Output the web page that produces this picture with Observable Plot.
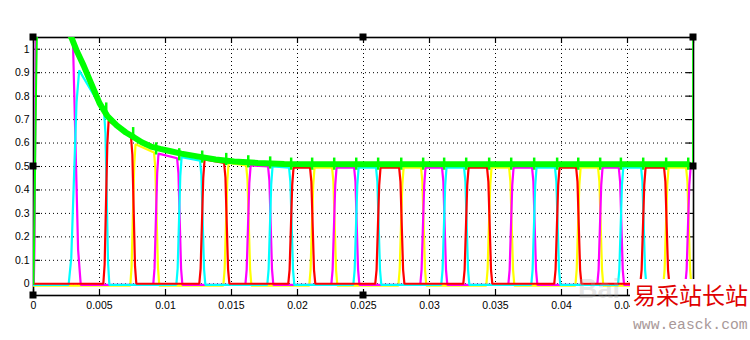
<!DOCTYPE html>
<html><head><meta charset="utf-8">
<script src="https://cdn.jsdelivr.net/npm/d3@7"></script>
<script src="https://cdn.jsdelivr.net/npm/@observablehq/plot@0.6"></script>
<style>
html,body{margin:0;padding:0;background:#fff;}
#wrap{position:relative;width:750px;height:340px;overflow:hidden;background:#fff;}
#wm{position:absolute;left:630px;top:279px;width:120px;height:61px;background:#fff;}
#wm .cn{position:absolute;left:3px;top:4px;font-family:"Noto Sans CJK SC";font-size:23px;line-height:1;color:#e00000;white-space:nowrap;}
#wm .url{position:absolute;left:3px;top:39px;font-family:"Liberation Mono";font-size:14.7px;line-height:1;color:#a89898;white-space:nowrap;}
#bai{position:absolute;left:578px;top:276px;font-family:"Liberation Sans";font-weight:bold;font-size:27px;line-height:1;color:rgba(170,170,170,0.3);}
</style></head><body><div id="wrap"></div><script>
// ---- ticks ----
const xTicks = [0, 0.005, 0.01, 0.015, 0.02, 0.025, 0.03, 0.035, 0.04, 0.045, 0.05];
const xTickLabels = ["0", "0.005", "0.01", "0.015", "0.02", "0.025", "0.03", "0.035", "0.04", "0.045", ""];
const yTicks = [0, 0.1, 0.2, 0.3, 0.4, 0.5, 0.6, 0.7, 0.8, 0.9, 1];
const yTickLabels = ["0", "0.1", "0.2", "0.3", "0.4", "0.5", "0.6", "0.7", "0.8", "0.9", "1"];

// ---- series (scope draw order) ----
const seriesNames = ["yellow", "magenta", "cyan", "red"];
const seriesColors = ["#ffff00", "#ff00ff", "#00ffff", "#ff0000"];
const seriesZero = [-0.008, -0.005, -0.005, 0.0];

// ---- pulses: start time, owning series, top level at start / end ----
const pulseStarts = [0.00013, 0.0031, 0.00551, 0.00755, 0.00929, 0.01104, 0.01278, 0.0146, 0.01627, 0.01793,
  0.01952, 0.02111, 0.02278, 0.02445, 0.02611, 0.02786, 0.02952, 0.03111, 0.03278, 0.03452,
  0.03619, 0.03793, 0.03967, 0.04127, 0.04293, 0.0445, 0.04619, 0.04793, 0.0496];
const pulseSeries = ["magenta", "cyan", "red", "yellow", "magenta", "cyan", "red", "yellow", "magenta", "cyan",
  "red", "yellow", "magenta", "cyan", "red", "yellow", "magenta", "cyan", "red", "yellow",
  "magenta", "cyan", "red", "yellow", "magenta", "cyan", "red", "yellow", "magenta"];
const pulseTopStart = [1.2, 0.91, 0.695, 0.595, 0.555, 0.54, 0.53, 0.515, 0.505, 0.5,
  0.495, 0.495, 0.495, 0.495, 0.495, 0.495, 0.495, 0.495, 0.495, 0.495, 0.495, 0.495, 0.495, 0.495, 0.495, 0.495, 0.495, 0.495, 0.495];
const pulseTopEnd = [1.2, 0.73, 0.625, 0.56, 0.535, 0.525, 0.515, 0.505, 0.5, 0.495,
  0.495, 0.495, 0.495, 0.495, 0.495, 0.495, 0.495, 0.495, 0.495, 0.495, 0.495, 0.495, 0.495, 0.495, 0.495, 0.495, 0.495, 0.495, 0.495];

// ---- green envelope ----
const greenT = [0, 0.00008, 0.00013, 0.0002, 0.0003, 0.0015, 0.0027, 0.0029, 0.0033, 0.0038, 0.0044, 0.005,
  0.0056, 0.0063, 0.007, 0.0076, 0.0082, 0.0089, 0.0096, 0.0104, 0.0112, 0.0124, 0.0138, 0.0152,
  0.017, 0.019, 0.022, 0.03, 0.04, 0.0496, 0.04997, 0.04998];
const greenV = [0, 0.3, 0.55, 0.86, 1.2, 1.2, 1.07, 1.046, 0.99, 0.93, 0.85, 0.77,
  0.715, 0.675, 0.645, 0.625, 0.603, 0.585, 0.575, 0.565, 0.555, 0.543, 0.53, 0.521,
  0.515, 0.511, 0.51, 0.51, 0.51, 0.51, 0.51, 1.2];
const greenSpikeHalf = 0.026;

const xMax = 0.05;
const edgeW = i => i === 0 ? 0.0002 : i === 1 ? 0.0008 : 0.0004;

function buildSeries(name, z) {
  const pts = [{t: 0, v: z}];
  pulseStarts.forEach((ts, i) => {
    if (pulseSeries[i] !== name) return;
    const L1 = pulseTopStart[i], L2 = pulseTopEnd[i], w1 = edgeW(i);
    const last = i === pulseStarts.length - 1;
    const te = last ? xMax : pulseStarts[i + 1];
    pts.push({t: Math.max(0, ts - 0.55 * w1), v: z}, {t: ts - 0.3 * w1, v: 0.12 * L1},
             {t: ts + 0.2 * w1, v: 0.85 * L1}, {t: ts + 0.45 * w1, v: L1});
    if (last) { pts.push({t: te, v: L2}); return; }
    const w2 = edgeW(i + 1);
    pts.push({t: te - 0.4 * w2, v: L2}, {t: te - 0.15 * w2, v: 0.88 * L2},
             {t: te + 0.35 * w2, v: 0.12 * L2}, {t: te + 0.6 * w2, v: z});
  });
  if (pts[pts.length - 1].t < xMax) pts.push({t: xMax, v: z});
  return pts;
}

const green = greenT.map((t, i) => ({t, v: greenV[i]}));
const greenMain = green.filter(d => d.t >= 0.0027 && d.t <= 0.0496);
const spikes = pulseStarts.slice(1).map((t, k) => {
  const c = pulseTopEnd[k] + 0.015;
  return {t, lo: c - greenSpikeHalf, hi: c + greenSpikeHalf};
});

const W = 750, H = 340, mL = 33, mR = 57, mT = 37, mB = 45;
const fW = W - mL - mR, fH = H - mT - mB;

const traceMarks = seriesNames.map((s, k) =>
  Plot.line(buildSeries(s, seriesZero[k]), {x: "t", y: "v", stroke: seriesColors[k], strokeWidth: 2.2, clip: true, strokeLinejoin: "miter"}));

const plot = Plot.plot({
  width: W, height: H, marginLeft: mL, marginRight: mR, marginTop: mT, marginBottom: mB,
  x: {domain: [0, xMax], label: null},
  y: {domain: [-0.05, 1.05], label: null},
  style: {fontFamily: "Liberation Sans", fontSize: "10.5px", color: "#000", background: "#fff"},
  marks: [
    Plot.ruleX(xTicks, {x: d => d, stroke: "#000", strokeWidth: 1, strokeDasharray: "1,3"}),
    Plot.ruleY(yTicks, {y: d => d, stroke: "#000", strokeWidth: 1, strokeDasharray: "1,3"}),
    Plot.tickX(xTicks, {x: d => d, insetTop: fH - 6, stroke: "#000", strokeWidth: 1.2}),
    Plot.tickX(xTicks, {x: d => d, insetBottom: fH - 6, stroke: "#000", strokeWidth: 1.2}),
    Plot.tickY(yTicks, {y: d => d, insetRight: fW - 7, stroke: "#000", strokeWidth: 1.2}),
    Plot.tickY(yTicks, {y: d => d, insetLeft: fW - 7, stroke: "#000", strokeWidth: 1.2}),
    Plot.axisX(xTicks, {tickSize: 0, tickPadding: 6, tickFormat: d => xTickLabels[xTicks.indexOf(d)], label: null}),
    Plot.axisY(yTicks, {tickSize: 0, tickPadding: 4, tickFormat: d => yTickLabels[yTicks.indexOf(d)], label: null}),
    Plot.frame({stroke: "#000", strokeWidth: 1.6}),
    ...traceMarks,
    Plot.line(green, {x: "t", y: "v", stroke: "#00ff00", strokeWidth: 2, clip: true}),
    Plot.line(greenMain, {x: "t", y: "v", stroke: "#00ff00", strokeWidth: 6, clip: true, strokeLinejoin: "round"}),
    Plot.ruleX(spikes, {x: "t", y1: "lo", y2: "hi", stroke: "#00ff00", strokeWidth: 2.5, clip: true})
  ]
});

const wrap = document.getElementById("wrap");
wrap.appendChild(plot);

// selection handles at frame corners / mid-edges
const sx = plot.scale("x"), sy = plot.scale("y");
const xl = sx.range[0], xr = sx.range[1], yb = sy.range[0], yt = sy.range[1];
const xm = (xl + xr) / 2, ym = (yt + yb) / 2;
const handles = [[xl, yt], [xm, yt], [xr, yt], [xl, ym], [xr, ym], [xl, yb], [xm, yb], [xr, yb]];
d3.select(plot).append("g").selectAll("rect").data(handles).join("rect")
  .attr("x", d => d[0] - 3.5).attr("y", d => d[1] - 3.5).attr("width", 7).attr("height", 7).attr("fill", "#000");

// watermark
const bai = document.createElement("div"); bai.id = "bai"; bai.textContent = "Bai"; wrap.appendChild(bai);
const wm = document.createElement("div"); wm.id = "wm";
wm.innerHTML = '<span class="cn">易采站长站</span><span class="url">www.easck.com</span>';
wrap.appendChild(wm);
</script></body></html>
